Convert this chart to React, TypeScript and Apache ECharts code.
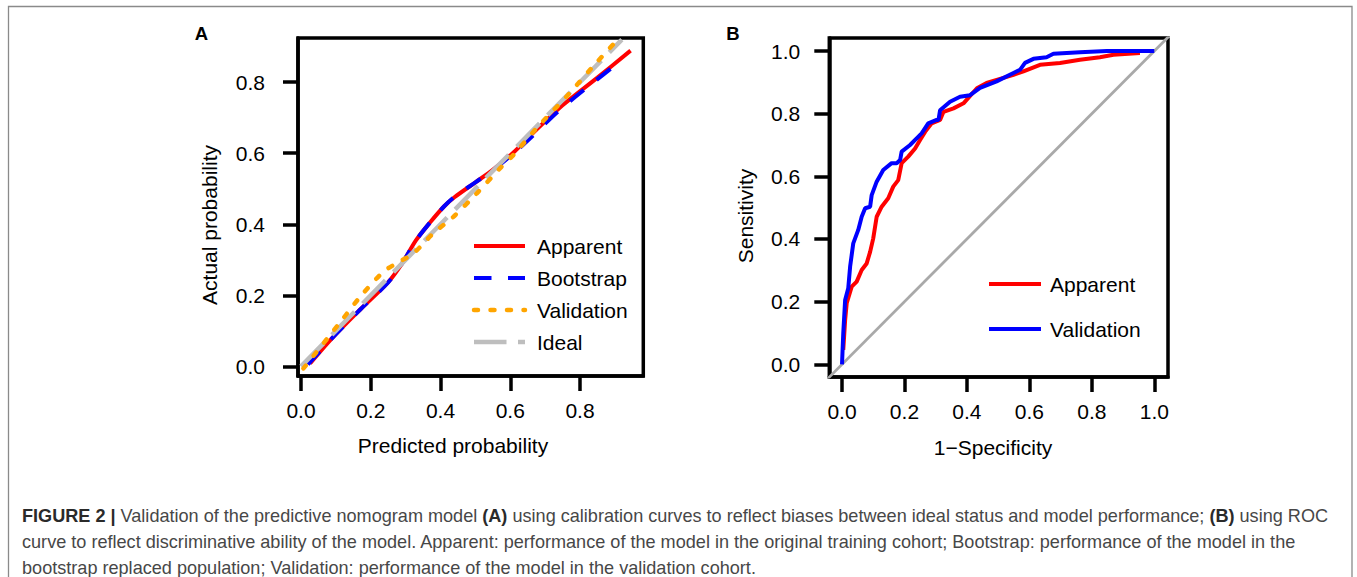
import React, { useEffect, useRef } from "react";
import * as echarts from "echarts";

// ---------- data ----------
const calTicks = [0, 0.2, 0.4, 0.6, 0.8];
const rocTicks = [0, 0.2, 0.4, 0.6, 0.8, 1.0];

// Panel A: calibration curves
const apparentX = [0.026, 0.09, 0.17, 0.25, 0.29, 0.33, 0.37, 0.41, 0.44, 0.5, 0.55, 0.61, 0.66, 0.75, 0.85, 0.945];
const apparentY = [0.008, 0.08, 0.16, 0.237, 0.29, 0.355, 0.405, 0.45, 0.476, 0.518, 0.553, 0.603, 0.652, 0.735, 0.813, 0.889];

const bootstrapX = [0.02, 0.09, 0.17, 0.25, 0.29, 0.33, 0.37, 0.41, 0.44, 0.5, 0.55, 0.61, 0.66, 0.74, 0.83, 0.917];
const bootstrapY = [0.005, 0.08, 0.16, 0.236, 0.29, 0.355, 0.405, 0.45, 0.477, 0.518, 0.552, 0.6, 0.645, 0.72, 0.793, 0.86];

const validationX = [0.007, 0.11, 0.17, 0.236, 0.274, 0.322, 0.38, 0.437, 0.504, 0.571, 0.609, 0.676, 0.771, 0.838, 0.905];
const validationY = [-0.006, 0.121, 0.196, 0.266, 0.29, 0.318, 0.375, 0.421, 0.487, 0.558, 0.595, 0.671, 0.77, 0.845, 0.917];

const idealX = [0, 0.92];
const idealY = [0, 0.92];

// Panel B: ROC curves
const apparentRocX = [0.004, 0.01, 0.015, 0.031, 0.047, 0.063, 0.079, 0.09, 0.1, 0.111, 0.127, 0.148, 0.164, 0.18, 0.191, 0.212, 0.234, 0.25, 0.266, 0.287, 0.314, 0.325, 0.357, 0.389, 0.432, 0.463, 0.549, 0.581, 0.634, 0.698, 0.762, 0.826, 0.869, 0.954];
const apparentRocY = [0.046, 0.141, 0.195, 0.248, 0.264, 0.301, 0.322, 0.359, 0.402, 0.471, 0.503, 0.53, 0.567, 0.588, 0.642, 0.663, 0.689, 0.716, 0.742, 0.769, 0.78, 0.806, 0.817, 0.833, 0.881, 0.898, 0.924, 0.935, 0.956, 0.962, 0.972, 0.98, 0.988, 0.994];

const validationRocX = [0, 0.004, 0.01, 0.02, 0.026, 0.036, 0.052, 0.063, 0.074, 0.09, 0.095, 0.111, 0.132, 0.159, 0.175, 0.186, 0.191, 0.218, 0.239, 0.255, 0.276, 0.303, 0.309, 0.314, 0.346, 0.378, 0.41, 0.442, 0.495, 0.549, 0.57, 0.586, 0.613, 0.655, 0.677, 0.762, 0.848, 1.0];
const validationRocY = [0, 0.099, 0.205, 0.243, 0.312, 0.386, 0.429, 0.471, 0.498, 0.503, 0.54, 0.583, 0.62, 0.642, 0.642, 0.652, 0.679, 0.7, 0.721, 0.737, 0.769, 0.78, 0.78, 0.811, 0.838, 0.854, 0.859, 0.882, 0.903, 0.93, 0.94, 0.962, 0.975, 0.98, 0.991, 0.996, 1.0, 1.0];

const diagX = [-0.1, 1.1];
const diagY = [-0.1, 1.1];

const calLegend = ["Apparent", "Bootstrap", "Validation", "Ideal"];
const rocLegend = ["Apparent", "Validation"];

const captionLines = [
  "{b|FIGURE 2 |} Validation of the predictive nomogram model {b|(A)} using calibration curves to reflect biases between ideal status and model performance; {b|(B)} using ROC",
  "curve to reflect discriminative ability of the model. Apparent: performance of the model in the original training cohort; Bootstrap: performance of the model in the",
  "bootstrap replaced population; Validation: performance of the model in the validation cohort.",
];

// ---------- helpers ----------
const zip = (xs: number[], ys: number[]) => xs.map((x, i) => [x, ys[i]]);
const FONT = "'Liberation Sans', Arial, Helvetica, sans-serif";
const RED = "#ff0000";
const BLUE = "#0000ff";
const ORANGE = "#ffa500";
const IDEAL = "#bebebe";
const DIAG = "#a9a9a9";
const CAP_SIZE = 18.1;

const fmt = (v: number) => v.toFixed(1);

function makeAxis(gridIndex: number, min: number, max: number, ticks: number[], margin: number) {
  return {
    type: "value",
    gridIndex,
    min,
    max,
    axisLine: { show: true, onZero: false, lineStyle: { color: "#000", width: 3.5 } },
    axisTick: { show: true, length: 15, customValues: ticks, lineStyle: { color: "#000", width: 3.5, cap: "butt" } },
    axisLabel: { show: true, customValues: ticks, formatter: fmt, fontSize: 21, color: "#000", fontFamily: FONT, margin },
    splitLine: { show: false },
  };
}

function lineSeries(name: string, xi: number, data: number[][], color: string, width: number, dash: any, cap: string, smooth: any, z: number) {
  return {
    type: "line",
    name,
    xAxisIndex: xi,
    yAxisIndex: xi,
    data,
    showSymbol: false,
    symbol: "none",
    smooth,
    clip: true,
    z,
    lineStyle: { color, width, type: dash, cap },
  };
}

function legendItem(x1: number, x2: number, y: number, textX: number, label: string, color: string, dash: any, cap: string, width: number) {
  return [
    {
      type: "line",
      silent: true,
      shape: { x1, y1: y, x2, y2: y },
      style: { stroke: color, lineWidth: width, lineDash: dash, lineCap: cap },
    },
    {
      type: "text",
      silent: true,
      x: textX,
      y,
      style: { text: label, fontSize: 21, fontFamily: FONT, fill: "#000", align: "left", verticalAlign: "middle" },
    },
  ];
}

export default function App() {
  const ref = useRef<HTMLDivElement>(null);

  useEffect(() => {
    if (!ref.current) return;
    const chart = echarts.init(ref.current, null, { renderer: "svg" });

    const calRows = [246, 278, 310, 342];
    const calStyles: [string, any, string, number][] = [
      [RED, null, "butt", 4],
      [BLUE, [17.5, 16.5], "butt", 4],
      [ORANGE, [4, 12.5], "round", 4.5],
      [IDEAL, [32.5, 11.5], "butt", 4.5],
    ];
    const rocRows = [284, 329];
    const rocStyles: [string][] = [[RED], [BLUE]];

    const graphic: any[] = [
      {
        type: "rect",
        silent: true,
        z: 0,
        shape: { x: 8.5, y: 6.5, width: 1343.5, height: 700 },
        style: { fill: "none", stroke: "#8a8a8a", lineWidth: 1.3 },
      },
      { type: "text", silent: true, x: 201.5, y: 33.5, style: { text: "A", fontSize: 18.5, fontWeight: "bold", fontFamily: FONT, fill: "#000", align: "center", verticalAlign: "middle" } },
      { type: "text", silent: true, x: 733, y: 33, style: { text: "B", fontSize: 18.5, fontWeight: "bold", fontFamily: FONT, fill: "#000", align: "center", verticalAlign: "middle" } },
      { type: "text", silent: true, x: 453, y: 445.5, style: { text: "Predicted probability", fontSize: 21, fontFamily: FONT, fill: "#000", align: "center", verticalAlign: "middle" } },
      { type: "text", silent: true, x: 993, y: 447.5, style: { text: "1\u2212Specificity", fontSize: 21, fontFamily: FONT, fill: "#000", align: "center", verticalAlign: "middle" } },
      { type: "text", silent: true, x: 209.5, y: 225, rotation: Math.PI / 2, style: { text: "Actual probability", fontSize: 21, fontFamily: FONT, fill: "#000", align: "center", verticalAlign: "middle" } },
      { type: "text", silent: true, x: 745, y: 216, rotation: Math.PI / 2, style: { text: "Sensitivity", fontSize: 21, fontFamily: FONT, fill: "#000", align: "center", verticalAlign: "middle" } },
    ];
    calLegend.forEach((lab, i) => {
      const [c, d, cap, w] = calStyles[i];
      graphic.push(...legendItem(474, 525, calRows[i], 537, lab, c, d, cap, w));
    });
    rocLegend.forEach((lab, i) => {
      graphic.push(...legendItem(989, 1041, rocRows[i], 1050, lab, rocStyles[i][0], null, "butt", 4));
    });
    captionLines.forEach((line, i) => {
      graphic.push({
        type: "text",
        silent: true,
        x: 22,
        y: 515.5 + i * 26.2,
        style: {
          text: line,
          fontSize: CAP_SIZE,
          fontFamily: FONT,
          fill: "#474747",
          align: "left",
          verticalAlign: "middle",
          rich: { b: { fontSize: CAP_SIZE, fontFamily: FONT, fontWeight: "bold", fill: "#2a2a2a" } },
        },
      });
    });

    const option: any = {
      animation: false,
      backgroundColor: "#ffffff",
      textStyle: { fontFamily: FONT },
      grid: [
        { left: 298, top: 38, width: 345.3, height: 338, show: true, borderColor: "#000", borderWidth: 3.5, backgroundColor: "transparent", containLabel: false },
        { left: 829.3, top: 38, width: 338.7, height: 339, show: true, borderColor: "#000", borderWidth: 3.5, backgroundColor: "transparent", containLabel: false },
      ],
      xAxis: [
        makeAxis(0, -0.0086, 0.9815, calTicks, 23.5),
        makeAxis(1, -0.0407, 1.0439, rocTicks, 23.5),
      ],
      yAxis: [
        makeAxis(0, -0.0273, 0.9245, calTicks, 33),
        makeAxis(1, -0.0405, 1.0415, rocTicks, 29),
      ],
      series: [
        lineSeries("Apparent", 0, zip(apparentX, apparentY), RED, 4, "solid", "butt", 0.3, 2),
        lineSeries("Bootstrap", 0, zip(bootstrapX, bootstrapY), BLUE, 4, [17.5, 16.5], "butt", 0.3, 3),
        lineSeries("Ideal", 0, zip(idealX, idealY), IDEAL, 4.5, [32.5, 11.5], "butt", false, 4),
        lineSeries("Validation", 0, zip(validationX, validationY), ORANGE, 4.5, [4, 12.5], "round", 0.3, 5),
        lineSeries("Reference", 1, zip(diagX, diagY), DIAG, 2.8, "solid", "butt", false, 2),
        lineSeries("Apparent ROC", 1, zip(apparentRocX, apparentRocY), RED, 4, "solid", "butt", false, 3),
        lineSeries("Validation ROC", 1, zip(validationRocX, validationRocY), BLUE, 4, "solid", "butt", false, 4),
      ],
      graphic,
    };

    chart.setOption(option);
    return () => chart.dispose();
  }, []);

  return <div ref={ref} style={{ position: "absolute", left: 0, top: 0, width: 1357, height: 577, background: "#fff" }} />;
}
